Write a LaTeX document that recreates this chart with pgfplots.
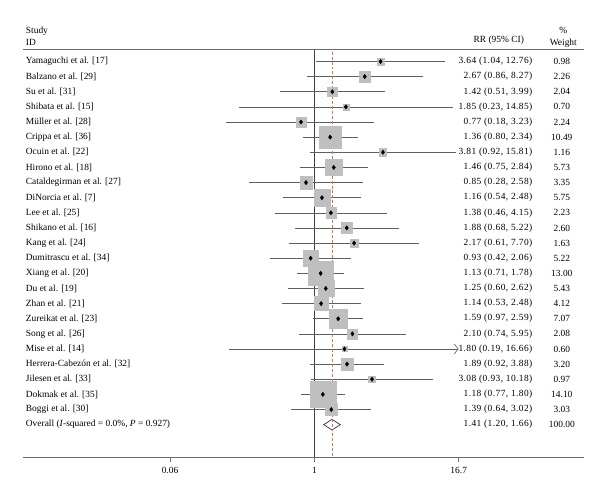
\documentclass[border=0pt]{standalone}
\usepackage{fontspec}
\setmainfont{Liberation Serif}
\usepackage{pgfplots}
\usepackage{pgfplotstable}
\pgfplotsset{compat=1.18}
\usetikzlibrary{arrows.meta}

\definecolor{boxgray}{RGB}{191,191,191}
\definecolor{cigray}{RGB}{95,95,95}
\definecolor{axisgray}{RGB}{110,110,110}
\definecolor{refline}{RGB}{205,120,85}
\definecolor{diamondedge}{RGB}{55,35,85}

\tikzset{
  ciline/.style={cigray, line width=0.6pt},
  clipped/.style={-{Straight Barb[length=4pt,width=10pt]}},
  namecol/.style={anchor=west, inner sep=0pt},
  cicol/.style={anchor=east, inner sep=0pt, font=\fontsize{9.5}{11}\selectfont\addfontfeatures{LetterSpace=4.5}},
  wcol/.style={anchor=center, inner sep=0pt},
}

% studies: row, label, risk ratio, 95% CI, weight (%), CI beyond the scale
\pgfplotstableread[col sep=semicolon]{
r;name;rr;lo;hi;w;clip
1;Yamaguchi et al. [17];3.64;1.04;12.76;0.98;0
2;Balzano et al. [29];2.67;0.86;8.27;2.26;0
3;Su et al. [31];1.42;0.51;3.99;2.04;0
4;Shibata et al. [15];1.85;0.23;14.85;0.70;0
5;Müller et al. [28];0.77;0.18;3.23;2.24;0
6;Crippa et al. [36];1.36;0.80;2.34;10.49;0
7;Ocuin et al. [22];3.81;0.92;15.81;1.16;0
8;Hirono et al. [18];1.46;0.75;2.84;5.73;0
9;Cataldegirman et al. [27];0.85;0.28;2.58;3.35;0
10;DiNorcia et al. [7];1.16;0.54;2.48;5.75;0
11;Lee et al. [25];1.38;0.46;4.15;2.23;0
12;Shikano et al. [16];1.88;0.68;5.22;2.60;0
13;Kang et al. [24];2.17;0.61;7.70;1.63;0
14;Dumitrascu et al. [34];0.93;0.42;2.06;5.22;0
15;Xiang et al. [20];1.13;0.71;1.78;13.00;0
16;Du et al. [19];1.25;0.60;2.62;5.43;0
17;Zhan et al. [21];1.14;0.53;2.48;4.12;0
18;Zureikat et al. [23];1.59;0.97;2.59;7.07;0
19;Song et al. [26];2.10;0.74;5.95;2.08;0
20;Mise et al. [14];1.80;0.19;16.66;0.60;1
21;Herrera-Cabezón et al. [32];1.89;0.92;3.88;3.20;0
22;Jilesen et al. [33];3.08;0.93;10.18;0.97;0
23;Dokmak et al. [35];1.18;0.77;1.80;14.10;0
24;Boggi et al. [30];1.39;0.64;3.02;3.03;0
}\studies

% pooled estimate
\pgfplotstableread[col sep=semicolon]{
r;rr;lo;hi;w
25;1.41;1.20;1.66;100.00
}\overall

\begin{document}
\pgfplotstablegetrowsof{\studies}
\pgfmathtruncatemacro\lastrow{\pgfplotsretval-1}
\pgfplotstablegetelem{0}{rr}\of\overall\let\ovrr\pgfplotsretval
\pgfplotstablegetelem{0}{lo}\of\overall\let\ovlo\pgfplotsretval
\pgfplotstablegetelem{0}{hi}\of\overall\let\ovhi\pgfplotsretval
\pgfplotstablegetelem{0}{w}\of\overall\let\ovw\pgfplotsretval
\begin{tikzpicture}[font=\fontsize{9.5}{11}\selectfont]
\path[use as bounding box] (0,0) rectangle (600pt,507pt);
\begin{axis}[
  at={(18pt,46pt)}, anchor=south west,
  scale only axis, width=566pt, height=411pt,
  xmode=log, xmin=0.003393, xmax=192.7,
  ymin=-27.15, ymax=-0.214,
  axis x line*=bottom, axis y line=none,
  axis line style={axisgray, line width=0.8pt},
  xtick={0.06,1,16.7}, xticklabels={0.06,1,16.7},
  xminorticks=false,
  tick align=outside, major tick length=5pt,
  tick style={axisgray, line width=0.8pt},
  xticklabel style={font=\fontsize{9.5}{11}\selectfont, yshift=-2pt},
  clip=false,
]
% header and rule below it
\node[namecol] at (axis cs:0.003593,0.966) {Study};
\node[namecol] at (axis cs:0.003593,0.245) {ID};
\node[wcol] at (axis cs:36.5,0.376) {RR (95\% CI)};
\node[wcol] at (axis cs:128.4,1.03) {\%};
\node[wcol] at (axis cs:128.4,0.18) {Weight};
\draw[axisgray, line width=0.8pt] (rel axis cs:0,1) -- (rel axis cs:1,1);

% line of no effect
\addplot[black!75, line width=0.7pt] coordinates {(1,-0.214) (1,-27.15)};

% weight boxes, area proportional to weight
\addplot[scatter, only marks, mark=square*, color=boxgray,
  mark options={draw=boxgray, fill=boxgray},
  scatter/use mapped color={draw=boxgray, fill=boxgray},
  visualization depends on={3.45*sqrt(\thisrow{w}) \as \boxhalf},
  scatter/@pre marker code/.append style={/tikz/mark size=\boxhalf}]
  table[x=rr, y expr=-\thisrow{r}] {\studies};

% confidence intervals and text columns
\pgfplotsinvokeforeach{0,...,\lastrow}{
  \pgfplotstablegetelem{#1}{r}\of\studies\let\rowno\pgfplotsretval
  \pgfplotstablegetelem{#1}{name}\of\studies\let\rowname\pgfplotsretval
  \pgfplotstablegetelem{#1}{rr}\of\studies\let\rowrr\pgfplotsretval
  \pgfplotstablegetelem{#1}{lo}\of\studies\let\rowlo\pgfplotsretval
  \pgfplotstablegetelem{#1}{hi}\of\studies\let\rowhi\pgfplotsretval
  \pgfplotstablegetelem{#1}{w}\of\studies\let\roww\pgfplotsretval
  \pgfplotstablegetelem{#1}{clip}\of\studies\let\rowclip\pgfplotsretval
  \edef\rowcmd{%
    \noexpand\addplot[ciline\ifnum\rowclip=1 ,clipped\fi] coordinates {(\rowlo,-\rowno) (\rowhi,-\rowno)};%
    \noexpand\node[namecol] at (axis cs:0.003593,-\rowno) {\rowname};%
    \noexpand\node[cicol] at (axis cs:70.5,-\rowno) {\rowrr\space(\rowlo, \rowhi)};%
    \noexpand\node[wcol] at (axis cs:124.7,-\rowno) {\roww};%
  }\rowcmd
}

% point estimates
\addplot[only marks, mark=diamond*, mark size=2.2pt, black]
  table[x=rr, y expr=-\thisrow{r}] {\studies};

% pooled estimate
\addplot[fill=white, draw=diamondedge, line width=0.7pt]
  coordinates {(\ovlo,-25) (\ovrr,-24.65) (\ovhi,-25) (\ovrr,-25.35)} -- cycle;
\addplot[refline, line width=0.7pt, dash pattern=on 3pt off 2pt]
  coordinates {(\ovrr,-0.35) (\ovrr,-27.15)};
\node[namecol] at (axis cs:0.003593,-25) {Overall (\textit{I}-squared = 0.0\%, \textit{P} = 0.927)};
\node[cicol] at (axis cs:70.5,-25) {\ovrr\space(\ovlo, \ovhi)};
\node[wcol] at (axis cs:124.7,-25) {\ovw};
\end{axis}
\end{tikzpicture}
\end{document}
